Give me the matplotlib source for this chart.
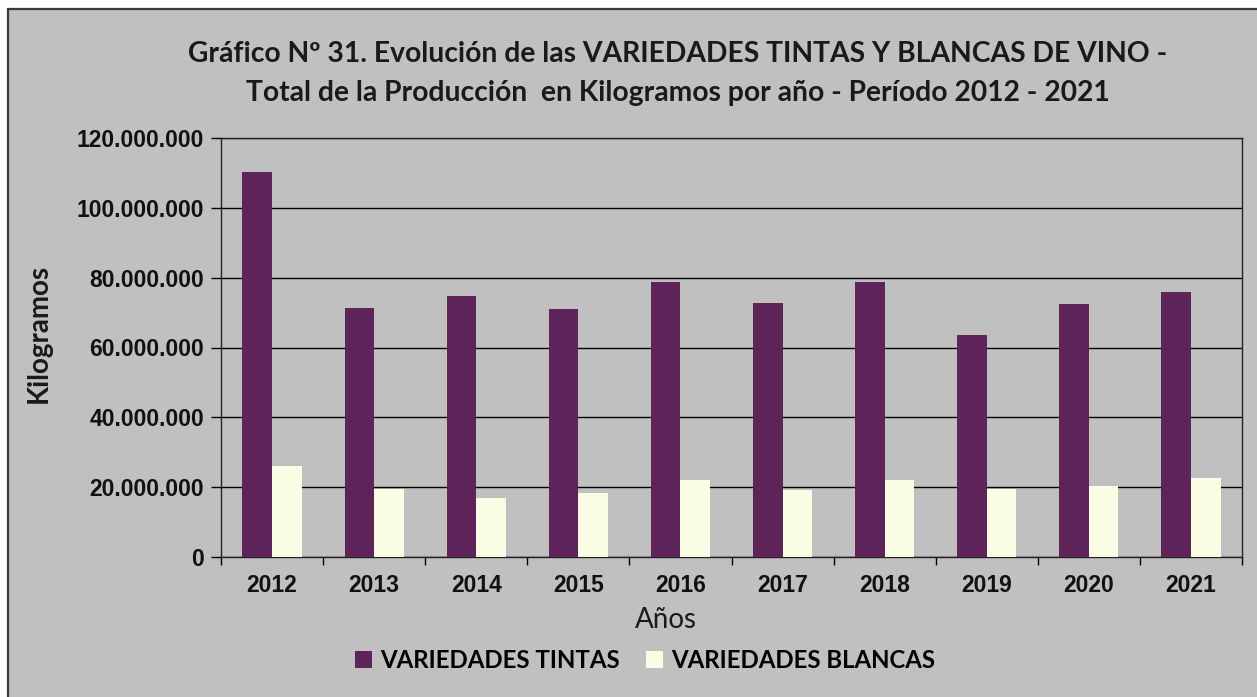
import numpy as np
import matplotlib.pyplot as plt
from matplotlib.patches import Patch, Rectangle
from matplotlib.ticker import FuncFormatter, FixedLocator

# Producción anual por tipo de variedad (kg)
anios = ['2012', '2013', '2014', '2015', '2016', '2017', '2018', '2019', '2020', '2021']
tintas = [110.4e6, 71.4e6, 74.8e6, 70.9e6, 78.8e6, 72.8e6, 78.8e6, 63.5e6, 72.6e6, 75.9e6]
blancas = [26.1e6, 19.4e6, 17.0e6, 18.3e6, 22.1e6, 19.2e6, 22.1e6, 19.4e6, 20.4e6, 22.7e6]

color_tinta = '#5E2358'
color_blanca = '#FBFEE4'
fondo = '#C0C0C0'

fig = plt.figure(figsize=(12.57, 6.97), dpi=100)
fig.patch.set_facecolor('white')

# área del gráfico con su marco (por detrás de los ejes)
fig.patches.append(Rectangle((8 / 1257, -0.1), 1.2, 1 - 8.5 / 697 + 0.1,
                             transform=fig.transFigure, facecolor=fondo,
                             edgecolor='#3A3A3A', linewidth=1.6, zorder=-10))

ax = fig.add_axes([221 / 1257, 1 - 557 / 697, (1242 - 221) / 1257, (557 - 138) / 697])
ax.set_facecolor(fondo)

x = np.arange(len(anios))
ancho = 0.29
ax.bar(x - ancho / 2, tintas, width=ancho, color=color_tinta, zorder=3)
ax.bar(x + ancho / 2, blancas, width=ancho, color=color_blanca, zorder=3)

ax.set_xlim(-0.5, len(anios) - 0.5)
ax.set_ylim(0, 120e6)
ax.set_yticks(np.arange(0, 120e6 + 1, 20e6))
ax.yaxis.set_major_formatter(FuncFormatter(lambda v, p: f'{int(v):,}'.replace(',', '.')))
ax.grid(axis='y', color='black', linewidth=1.0, zorder=1)

ax.set_xticks(x)
ax.set_xticklabels(anios)
ax.xaxis.set_minor_locator(FixedLocator(np.arange(-0.5, len(anios), 1)))
ax.tick_params(axis='x', which='major', length=0, pad=12)
ax.tick_params(axis='x', which='minor', length=6, width=1, direction='out', color='black')
ax.tick_params(axis='y', length=7, width=1, direction='out', pad=5, color='black')

for lab in ax.get_xticklabels() + ax.get_yticklabels():
    lab.set_fontfamily('Liberation Sans')
    lab.set_fontweight('bold')
    lab.set_fontsize(16.5)
    lab.set_color('#111111')

for lado in ['left', 'bottom', 'right', 'top']:
    ax.spines[lado].set_color('#222222')
    ax.spines[lado].set_linewidth(1.0)

fig.text(0.539, 0.922, 'Gráfico Nº 31. Evolución de las VARIEDADES TINTAS Y BLANCAS DE VINO -',
         ha='center', va='center', fontfamily='Lato', fontweight='bold', fontsize=20.3, color='#1A1A1A')
fig.text(0.539, 0.866, 'Total de la Producción  en Kilogramos por año - Período 2012 - 2021',
         ha='center', va='center', fontfamily='Lato', fontweight='bold', fontsize=20.3, color='#1A1A1A')

fig.text(39 / 1257, 1 - 333 / 697, 'Kilogramos', rotation=90, ha='center', va='center',
         fontfamily='Lato', fontweight='bold', fontsize=20, color='#1A1A1A')
fig.text(666 / 1257, 1 - 620 / 697, 'Años', ha='center', va='center',
         fontfamily='Lato', fontsize=20, color='#1A1A1A')

handles = [Patch(facecolor=color_tinta, label='VARIEDADES TINTAS'),
           Patch(facecolor=color_blanca, label='VARIEDADES BLANCAS')]
leg = fig.legend(handles=handles, loc='center', bbox_to_anchor=(645 / 1257, 1 - 660 / 697),
                 ncol=2, frameon=False, handlelength=0.7, handleheight=0.7,
                 handletextpad=0.35, columnspacing=1.1,
                 prop={'family': 'Lato', 'weight': 'bold', 'size': 17.3})

fig.savefig('out.png', dpi=100)
